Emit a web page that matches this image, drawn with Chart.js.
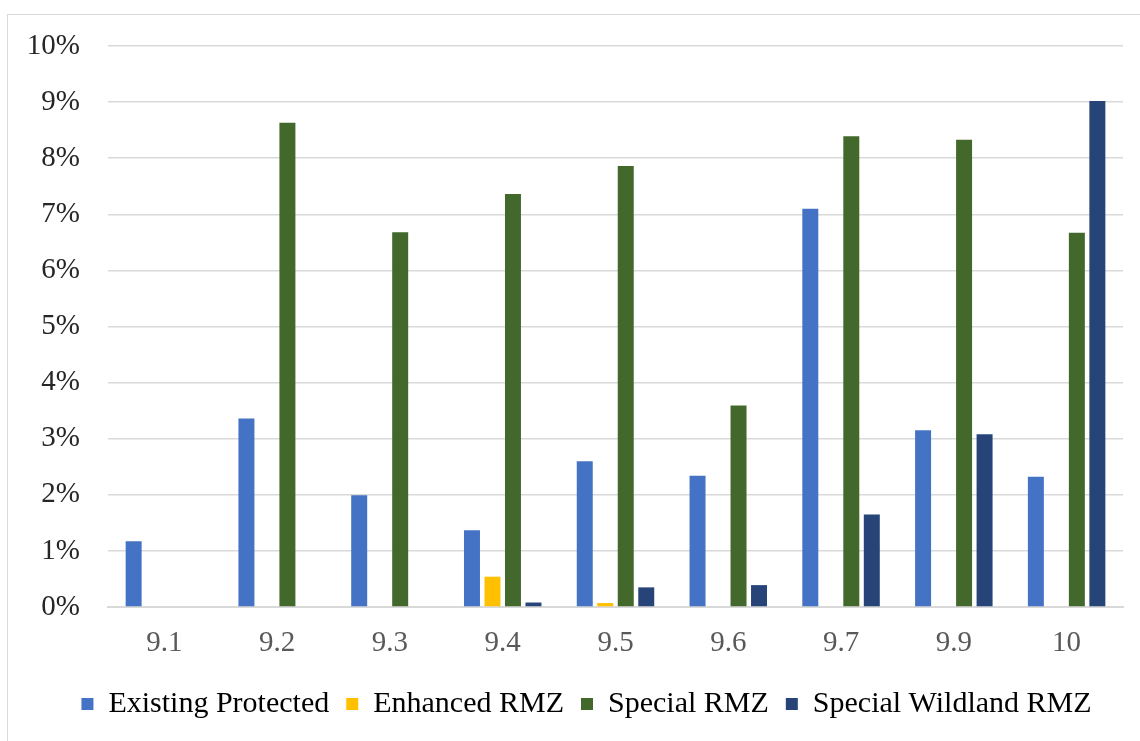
<!DOCTYPE html>
<html lang="en">
<head>
    <meta charset="UTF-8">
    <title>RMZ share by zone</title>
    <script src="https://cdn.jsdelivr.net/npm/chart.js"></script>
    <style>
        body {
            margin: 0;
            padding: 0;
            background: #fff;
        }
        #chart {
            display: block;
        }
    </style>
</head>
<body>
    <canvas id="chart" width="1140" height="741"></canvas>

    <script>
        // Categories and series values (percent)
        const zones = ['9.1', '9.2', '9.3', '9.4', '9.5', '9.6', '9.7', '9.9', '10'];
        const existingProtected = [1.17, 3.36, 1.99, 1.37, 2.60, 2.34, 7.10, 3.15, 2.32];
        const enhancedRmz = [0, 0, 0, 0.54, 0.07, 0, 0, 0, 0];
        const specialRmz = [0, 8.63, 6.68, 7.36, 7.86, 3.59, 8.39, 8.33, 6.67];
        const specialWildlandRmz = [0, 0, 0, 0.08, 0.35, 0.39, 1.65, 3.08, 9.02];
        const yTicks = [0, 1, 2, 3, 4, 5, 6, 7, 8, 9, 10];

        const serif = "'Liberation Serif', 'Times New Roman', serif";

        // Light frame around the whole chart
        const frame = {
            id: 'frame',
            beforeDraw(chart) {
                const ctx = chart.ctx;
                ctx.save();
                ctx.fillStyle = '#fff';
                ctx.fillRect(0, 0, chart.width, chart.height);
                ctx.strokeStyle = '#d9d9d9';
                ctx.lineWidth = 1;
                ctx.strokeRect(7.5, 14.5, chart.width + 10, chart.height + 10);
                ctx.restore();
            }
        };

        // Centre the legend under the plot area instead of the whole canvas
        const legendShift = {
            id: 'legendShift',
            afterLayout(chart) {
                if (chart.legend) chart.legend.left += 50;
            }
        };

        function series(label, data, color) {
            return {
                label: label,
                data: data,
                backgroundColor: color,
                borderWidth: 0,
                categoryPercentage: 0.727,
                barPercentage: 0.78
            };
        }

        new Chart(document.getElementById('chart'), {
            type: 'bar',
            data: {
                labels: zones,
                datasets: [
                    series('Existing Protected', existingProtected, '#4472c4'),
                    series('Enhanced RMZ', enhancedRmz, '#ffc000'),
                    series('Special RMZ', specialRmz, '#43682b'),
                    series('Special Wildland RMZ', specialWildlandRmz, '#264478')
                ]
            },
            options: {
                responsive: false,
                animation: false,
                layout: {
                    padding: { left: 0, right: 17, top: 46, bottom: 12 }
                },
                plugins: {
                    tooltip: { enabled: false },
                    legend: {
                        position: 'bottom',
                        labels: {
                            boxWidth: 12,
                            boxHeight: 12,
                            padding: 17,
                            color: '#000',
                            font: { family: serif, size: 30 }
                        }
                    }
                },
                scales: {
                    x: {
                        afterFit(scale) { scale.height = 65; },
                        grid: { display: false },
                        border: { display: true, color: '#d9d9d9', width: 2 },
                        ticks: {
                            color: '#595959',
                            padding: 11,
                            font: { family: serif, size: 29 }
                        }
                    },
                    y: {
                        min: 0,
                        max: 10,
                        afterFit(scale) { scale.width = 108; },
                        afterBuildTicks(scale) { scale.ticks = yTicks.map(v => ({ value: v })); },
                        grid: { color: '#d9d9d9', lineWidth: 1.5, drawTicks: false },
                        border: { display: false },
                        ticks: {
                            color: '#262626',
                            padding: 28,
                            font: { family: serif, size: 29 },
                            callback: v => v + '%'
                        }
                    }
                }
            },
            plugins: [frame, legendShift]
        });
    </script>
</body>
</html>
